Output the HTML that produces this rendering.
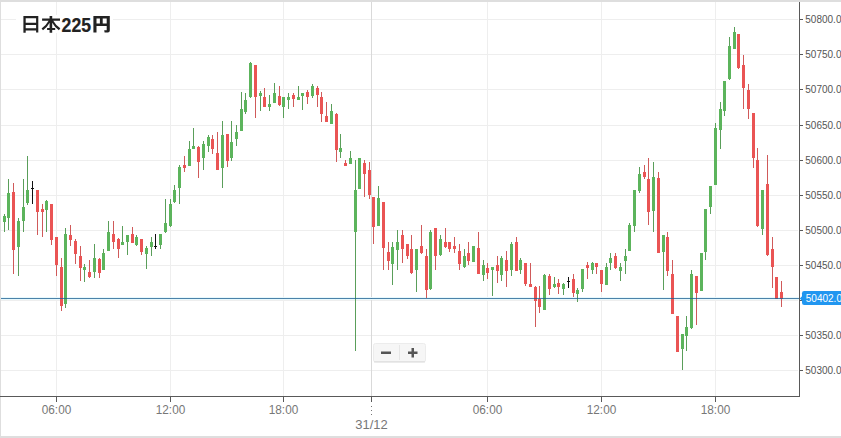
<!DOCTYPE html>
<html><head><meta charset="utf-8">
<style>
html,body{margin:0;padding:0;background:#fff;}
body{width:841px;height:438px;overflow:hidden;position:relative;}
svg{position:absolute;left:0;top:0;}
.ya{font-family:"Liberation Sans",sans-serif;font-size:10px;fill:#555;}
.xa{font-family:"Liberation Sans",sans-serif;font-size:11.8px;fill:#777;}
.pl{font-family:"Liberation Sans",sans-serif;font-size:10px;fill:#fff;}
.tt{font-family:"Liberation Sans",sans-serif;font-size:19px;font-weight:bold;fill:#222;stroke:#222;stroke-width:0.2px;}
</style></head>
<body>
<svg width="841" height="438" viewBox="0 0 841 438">
<g shape-rendering="crispEdges">
<rect x="0" y="0" width="841" height="2" fill="#dedede"/>
<rect x="0" y="0" width="1" height="438" fill="#dedede"/>
<rect x="0" y="436" width="841" height="2" fill="#dedede"/>
<rect x="1" y="19" width="797" height="1" fill="#eeeeee"/>
<rect x="1" y="54" width="797" height="1" fill="#eeeeee"/>
<rect x="1" y="89" width="797" height="1" fill="#eeeeee"/>
<rect x="1" y="125" width="797" height="1" fill="#eeeeee"/>
<rect x="1" y="160" width="797" height="1" fill="#eeeeee"/>
<rect x="1" y="195" width="797" height="1" fill="#eeeeee"/>
<rect x="1" y="230" width="797" height="1" fill="#eeeeee"/>
<rect x="1" y="265" width="797" height="1" fill="#eeeeee"/>
<rect x="1" y="300" width="797" height="1" fill="#eeeeee"/>
<rect x="1" y="335" width="797" height="1" fill="#eeeeee"/>
<rect x="1" y="370" width="797" height="1" fill="#eeeeee"/>
<rect x="56" y="2" width="1" height="394" fill="#eeeeee"/>
<rect x="170" y="2" width="1" height="394" fill="#eeeeee"/>
<rect x="283" y="2" width="1" height="394" fill="#eeeeee"/>
<rect x="371" y="2" width="1" height="394" fill="#d9d9d9"/>
<rect x="487" y="2" width="1" height="394" fill="#eeeeee"/>
<rect x="601" y="2" width="1" height="394" fill="#eeeeee"/>
<rect x="715" y="2" width="1" height="394" fill="#eeeeee"/>
<rect x="1" y="297" width="798" height="1" fill="#e8f9fd"/>
<rect x="1" y="299" width="798" height="1" fill="#e8f9fd"/>
<rect x="4" y="214.0" width="1" height="18.0" fill="#5a9e5a"/>
<rect x="3" y="216.0" width="3" height="6.0" fill="#5cb45c"/>
<rect x="8" y="179.0" width="1" height="51.0" fill="#5a9e5a"/>
<rect x="7" y="193.0" width="3" height="25.0" fill="#5cb45c"/>
<rect x="13" y="183.0" width="1" height="91.0" fill="#d05a5a"/>
<rect x="12" y="192.0" width="3" height="58.0" fill="#ea5454"/>
<rect x="18" y="218.0" width="1" height="58.0" fill="#5a9e5a"/>
<rect x="17" y="221.0" width="3" height="26.0" fill="#5cb45c"/>
<rect x="23" y="179.0" width="1" height="53.0" fill="#5a9e5a"/>
<rect x="22" y="207.0" width="3" height="14.0" fill="#5cb45c"/>
<rect x="27" y="156.0" width="1" height="49.0" fill="#5a9e5a"/>
<rect x="26" y="190.0" width="3" height="13.0" fill="#5cb45c"/>
<rect x="32" y="181.0" width="1" height="23.0" fill="#111"/>
<rect x="31" y="188.0" width="3" height="1" fill="#111"/>
<rect x="37" y="190.0" width="1" height="45.0" fill="#d05a5a"/>
<rect x="36" y="190.0" width="3" height="22.0" fill="#ea5454"/>
<rect x="42" y="204.0" width="1" height="33.0" fill="#d05a5a"/>
<rect x="41" y="209.0" width="3" height="3.0" fill="#ea5454"/>
<rect x="46" y="200.0" width="1" height="32.0" fill="#5a9e5a"/>
<rect x="45" y="201.0" width="3" height="9.0" fill="#5cb45c"/>
<rect x="51" y="204.0" width="1" height="41.0" fill="#d05a5a"/>
<rect x="50" y="204.0" width="3" height="36.0" fill="#ea5454"/>
<rect x="56" y="237.0" width="1" height="39.0" fill="#d05a5a"/>
<rect x="55" y="237.0" width="3" height="28.0" fill="#ea5454"/>
<rect x="61" y="258.0" width="1" height="53.0" fill="#d05a5a"/>
<rect x="60" y="267.0" width="3" height="39.0" fill="#ea5454"/>
<rect x="65" y="228.0" width="1" height="80.0" fill="#5a9e5a"/>
<rect x="64" y="234.0" width="3" height="70.0" fill="#5cb45c"/>
<rect x="70" y="225.0" width="1" height="21.0" fill="#d05a5a"/>
<rect x="69" y="235.0" width="3" height="5.0" fill="#ea5454"/>
<rect x="75" y="239.0" width="1" height="25.0" fill="#d05a5a"/>
<rect x="74" y="241.0" width="3" height="13.0" fill="#ea5454"/>
<rect x="80" y="246.0" width="1" height="35.0" fill="#d05a5a"/>
<rect x="79" y="256.0" width="3" height="12.0" fill="#ea5454"/>
<rect x="84" y="264.0" width="1" height="18.0" fill="#5a9e5a"/>
<rect x="83" y="267.0" width="3" height="3.0" fill="#5cb45c"/>
<rect x="89" y="260.0" width="1" height="18.0" fill="#d05a5a"/>
<rect x="88" y="272.0" width="3" height="5.0" fill="#ea5454"/>
<rect x="94" y="244.0" width="1" height="34.0" fill="#5a9e5a"/>
<rect x="93" y="258.0" width="3" height="14.0" fill="#5cb45c"/>
<rect x="99" y="258.0" width="1" height="20.0" fill="#d05a5a"/>
<rect x="98" y="259.0" width="3" height="14.0" fill="#ea5454"/>
<rect x="103" y="249.0" width="1" height="21.0" fill="#5a9e5a"/>
<rect x="102" y="253.0" width="3" height="17.0" fill="#5cb45c"/>
<rect x="108" y="221.0" width="1" height="30.0" fill="#5a9e5a"/>
<rect x="107" y="232.0" width="3" height="19.0" fill="#5cb45c"/>
<rect x="113" y="221.0" width="1" height="28.0" fill="#d05a5a"/>
<rect x="112" y="234.0" width="3" height="8.0" fill="#ea5454"/>
<rect x="118" y="238.0" width="1" height="20.0" fill="#d05a5a"/>
<rect x="117" y="239.0" width="3" height="10.0" fill="#ea5454"/>
<rect x="122" y="226.0" width="1" height="19.0" fill="#5a9e5a"/>
<rect x="121" y="242.0" width="3" height="3.0" fill="#5cb45c"/>
<rect x="127" y="235.0" width="1" height="20.0" fill="#5a9e5a"/>
<rect x="126" y="235.0" width="3" height="7.0" fill="#5cb45c"/>
<rect x="132" y="227.0" width="1" height="16.0" fill="#d05a5a"/>
<rect x="131" y="234.0" width="3" height="9.0" fill="#ea5454"/>
<rect x="136" y="235.0" width="1" height="11.0" fill="#5a9e5a"/>
<rect x="135" y="237.0" width="3" height="8.0" fill="#5cb45c"/>
<rect x="141" y="239.0" width="1" height="16.0" fill="#d05a5a"/>
<rect x="140" y="239.0" width="3" height="13.0" fill="#ea5454"/>
<rect x="146" y="246.0" width="1" height="23.0" fill="#5a9e5a"/>
<rect x="145" y="248.0" width="3" height="6.0" fill="#5cb45c"/>
<rect x="151" y="237.0" width="1" height="19.0" fill="#5a9e5a"/>
<rect x="150" y="242.0" width="3" height="5.0" fill="#5cb45c"/>
<rect x="155" y="234.0" width="1" height="15.0" fill="#111"/>
<rect x="154" y="246.0" width="3" height="1" fill="#111"/>
<rect x="160" y="234.0" width="1" height="15.0" fill="#5a9e5a"/>
<rect x="159" y="234.0" width="3" height="11.0" fill="#5cb45c"/>
<rect x="165" y="199.0" width="1" height="34.0" fill="#5a9e5a"/>
<rect x="164" y="223.0" width="3" height="9.0" fill="#5cb45c"/>
<rect x="170" y="199.0" width="1" height="28.0" fill="#5a9e5a"/>
<rect x="169" y="204.0" width="3" height="22.0" fill="#5cb45c"/>
<rect x="174" y="185.0" width="1" height="18.0" fill="#5a9e5a"/>
<rect x="173" y="190.0" width="3" height="12.0" fill="#5cb45c"/>
<rect x="179" y="165.0" width="1" height="39.0" fill="#5a9e5a"/>
<rect x="178" y="167.0" width="3" height="21.0" fill="#5cb45c"/>
<rect x="184" y="156.0" width="1" height="16.0" fill="#d05a5a"/>
<rect x="183" y="165.0" width="3" height="3.0" fill="#ea5454"/>
<rect x="189" y="141.0" width="1" height="25.0" fill="#5a9e5a"/>
<rect x="188" y="149.0" width="3" height="17.0" fill="#5cb45c"/>
<rect x="193" y="128.0" width="1" height="21.0" fill="#5a9e5a"/>
<rect x="192" y="146.0" width="3" height="3.0" fill="#5cb45c"/>
<rect x="198" y="146.0" width="1" height="32.0" fill="#d05a5a"/>
<rect x="197" y="147.0" width="3" height="15.0" fill="#ea5454"/>
<rect x="203" y="141.0" width="1" height="29.0" fill="#5a9e5a"/>
<rect x="202" y="144.0" width="3" height="14.0" fill="#5cb45c"/>
<rect x="208" y="135.0" width="1" height="17.0" fill="#5a9e5a"/>
<rect x="207" y="137.0" width="3" height="9.0" fill="#5cb45c"/>
<rect x="212" y="135.0" width="1" height="19.0" fill="#d05a5a"/>
<rect x="211" y="139.0" width="3" height="10.0" fill="#ea5454"/>
<rect x="217" y="132.0" width="1" height="38.0" fill="#d05a5a"/>
<rect x="216" y="153.0" width="3" height="17.0" fill="#ea5454"/>
<rect x="222" y="121.0" width="1" height="67.0" fill="#5a9e5a"/>
<rect x="221" y="135.0" width="3" height="33.0" fill="#5cb45c"/>
<rect x="227" y="134.0" width="1" height="33.0" fill="#d05a5a"/>
<rect x="226" y="134.0" width="3" height="27.0" fill="#ea5454"/>
<rect x="231" y="121.0" width="1" height="40.0" fill="#5a9e5a"/>
<rect x="230" y="142.0" width="3" height="16.0" fill="#5cb45c"/>
<rect x="236" y="125.0" width="1" height="21.0" fill="#5a9e5a"/>
<rect x="235" y="132.0" width="3" height="7.0" fill="#5cb45c"/>
<rect x="241" y="92.0" width="1" height="39.0" fill="#5a9e5a"/>
<rect x="240" y="109.0" width="3" height="22.0" fill="#5cb45c"/>
<rect x="245" y="93.0" width="1" height="21.0" fill="#5a9e5a"/>
<rect x="244" y="100.0" width="3" height="12.0" fill="#5cb45c"/>
<rect x="250" y="62.0" width="1" height="36.0" fill="#5a9e5a"/>
<rect x="249" y="63.0" width="3" height="34.0" fill="#5cb45c"/>
<rect x="255" y="65.0" width="1" height="53.0" fill="#d05a5a"/>
<rect x="254" y="65.0" width="3" height="32.0" fill="#ea5454"/>
<rect x="260" y="91.0" width="1" height="20.0" fill="#5a9e5a"/>
<rect x="259" y="93.0" width="3" height="3.0" fill="#5cb45c"/>
<rect x="264" y="88.0" width="1" height="19.0" fill="#d05a5a"/>
<rect x="263" y="97.0" width="3" height="10.0" fill="#ea5454"/>
<rect x="269" y="95.0" width="1" height="16.0" fill="#5a9e5a"/>
<rect x="268" y="104.0" width="3" height="3.0" fill="#5cb45c"/>
<rect x="274" y="83.0" width="1" height="20.0" fill="#5a9e5a"/>
<rect x="273" y="93.0" width="3" height="10.0" fill="#5cb45c"/>
<rect x="279" y="86.0" width="1" height="20.0" fill="#d05a5a"/>
<rect x="278" y="96.0" width="3" height="9.0" fill="#ea5454"/>
<rect x="283" y="97.0" width="1" height="21.0" fill="#5a9e5a"/>
<rect x="282" y="97.0" width="3" height="10.0" fill="#5cb45c"/>
<rect x="288" y="93.0" width="1" height="16.0" fill="#5a9e5a"/>
<rect x="287" y="97.0" width="3" height="3.0" fill="#5cb45c"/>
<rect x="293" y="93.0" width="1" height="14.0" fill="#d05a5a"/>
<rect x="292" y="95.0" width="3" height="4.0" fill="#ea5454"/>
<rect x="298" y="86.0" width="1" height="14.0" fill="#5a9e5a"/>
<rect x="297" y="97.0" width="3" height="3.0" fill="#5cb45c"/>
<rect x="302" y="93.0" width="1" height="17.0" fill="#5a9e5a"/>
<rect x="301" y="93.0" width="3" height="3.0" fill="#5cb45c"/>
<rect x="307" y="90.0" width="1" height="14.0" fill="#d05a5a"/>
<rect x="306" y="92.0" width="3" height="5.0" fill="#ea5454"/>
<rect x="312" y="84.0" width="1" height="14.0" fill="#5a9e5a"/>
<rect x="311" y="86.0" width="3" height="10.0" fill="#5cb45c"/>
<rect x="317" y="86.0" width="1" height="21.0" fill="#d05a5a"/>
<rect x="316" y="88.0" width="3" height="7.0" fill="#ea5454"/>
<rect x="321" y="92.0" width="1" height="30.0" fill="#d05a5a"/>
<rect x="320" y="97.0" width="3" height="17.0" fill="#ea5454"/>
<rect x="326" y="102.0" width="1" height="20.0" fill="#d05a5a"/>
<rect x="325" y="116.0" width="3" height="6.0" fill="#ea5454"/>
<rect x="331" y="104.0" width="1" height="20.0" fill="#5a9e5a"/>
<rect x="330" y="111.0" width="3" height="13.0" fill="#5cb45c"/>
<rect x="336" y="113.0" width="1" height="49.0" fill="#d05a5a"/>
<rect x="335" y="114.0" width="3" height="36.0" fill="#ea5454"/>
<rect x="340" y="134.0" width="1" height="24.0" fill="#5a9e5a"/>
<rect x="339" y="148.0" width="3" height="4.0" fill="#5cb45c"/>
<rect x="345" y="160.0" width="1" height="6.0" fill="#d05a5a"/>
<rect x="344" y="163.0" width="3" height="3.0" fill="#ea5454"/>
<rect x="350" y="151.0" width="1" height="13.0" fill="#5a9e5a"/>
<rect x="349" y="158.0" width="3" height="6.0" fill="#5cb45c"/>
<rect x="355" y="160.0" width="1" height="191.0" fill="#5a9e5a"/>
<rect x="354" y="190.0" width="3" height="42.0" fill="#5cb45c"/>
<rect x="359" y="158.0" width="1" height="31.0" fill="#5a9e5a"/>
<rect x="358" y="158.0" width="3" height="31.0" fill="#5cb45c"/>
<rect x="364" y="160.0" width="1" height="37.0" fill="#d05a5a"/>
<rect x="363" y="163.0" width="3" height="11.0" fill="#ea5454"/>
<rect x="369" y="162.0" width="1" height="37.0" fill="#d05a5a"/>
<rect x="368" y="170.0" width="3" height="25.0" fill="#ea5454"/>
<rect x="373" y="197.0" width="1" height="47.0" fill="#d05a5a"/>
<rect x="372" y="197.0" width="3" height="30.0" fill="#ea5454"/>
<rect x="378" y="186.0" width="1" height="40.0" fill="#5a9e5a"/>
<rect x="377" y="198.0" width="3" height="28.0" fill="#5cb45c"/>
<rect x="383" y="202.0" width="1" height="68.0" fill="#d05a5a"/>
<rect x="382" y="202.0" width="3" height="46.0" fill="#ea5454"/>
<rect x="388" y="242.0" width="1" height="28.0" fill="#d05a5a"/>
<rect x="387" y="252.0" width="3" height="9.0" fill="#ea5454"/>
<rect x="392" y="242.0" width="1" height="43.0" fill="#5a9e5a"/>
<rect x="391" y="247.0" width="3" height="17.0" fill="#5cb45c"/>
<rect x="397" y="230.0" width="1" height="40.0" fill="#5a9e5a"/>
<rect x="396" y="242.0" width="3" height="8.0" fill="#5cb45c"/>
<rect x="402" y="230.0" width="1" height="33.0" fill="#d05a5a"/>
<rect x="401" y="235.0" width="3" height="14.0" fill="#ea5454"/>
<rect x="407" y="244.0" width="1" height="15.0" fill="#d05a5a"/>
<rect x="406" y="244.0" width="3" height="12.0" fill="#ea5454"/>
<rect x="411" y="235.0" width="1" height="39.0" fill="#d05a5a"/>
<rect x="410" y="249.0" width="3" height="24.0" fill="#ea5454"/>
<rect x="416" y="249.0" width="1" height="43.0" fill="#5a9e5a"/>
<rect x="415" y="249.0" width="3" height="21.0" fill="#5cb45c"/>
<rect x="421" y="225.0" width="1" height="29.0" fill="#d05a5a"/>
<rect x="420" y="246.0" width="3" height="7.0" fill="#ea5454"/>
<rect x="426" y="249.0" width="1" height="49.0" fill="#d05a5a"/>
<rect x="425" y="256.0" width="3" height="34.0" fill="#ea5454"/>
<rect x="430" y="230.0" width="1" height="60.0" fill="#5a9e5a"/>
<rect x="429" y="232.0" width="3" height="57.0" fill="#5cb45c"/>
<rect x="435" y="228.0" width="1" height="42.0" fill="#d05a5a"/>
<rect x="434" y="228.0" width="3" height="28.0" fill="#ea5454"/>
<rect x="440" y="235.0" width="1" height="21.0" fill="#5a9e5a"/>
<rect x="439" y="239.0" width="3" height="16.0" fill="#5cb45c"/>
<rect x="445" y="228.0" width="1" height="20.0" fill="#d05a5a"/>
<rect x="444" y="242.0" width="3" height="5.0" fill="#ea5454"/>
<rect x="449" y="242.0" width="1" height="10.0" fill="#d05a5a"/>
<rect x="448" y="242.0" width="3" height="7.0" fill="#ea5454"/>
<rect x="454" y="237.0" width="1" height="16.0" fill="#d05a5a"/>
<rect x="453" y="246.0" width="3" height="3.0" fill="#ea5454"/>
<rect x="459" y="244.0" width="1" height="26.0" fill="#d05a5a"/>
<rect x="458" y="251.0" width="3" height="13.0" fill="#ea5454"/>
<rect x="464" y="249.0" width="1" height="19.0" fill="#5a9e5a"/>
<rect x="463" y="256.0" width="3" height="11.0" fill="#5cb45c"/>
<rect x="468" y="242.0" width="1" height="23.0" fill="#d05a5a"/>
<rect x="467" y="253.0" width="3" height="8.0" fill="#ea5454"/>
<rect x="473" y="246.0" width="1" height="16.0" fill="#5a9e5a"/>
<rect x="472" y="246.0" width="3" height="16.0" fill="#5cb45c"/>
<rect x="478" y="232.0" width="1" height="42.0" fill="#d05a5a"/>
<rect x="477" y="248.0" width="3" height="26.0" fill="#ea5454"/>
<rect x="483" y="260.0" width="1" height="21.0" fill="#5a9e5a"/>
<rect x="482" y="265.0" width="3" height="10.0" fill="#5cb45c"/>
<rect x="487" y="263.0" width="1" height="16.0" fill="#d05a5a"/>
<rect x="486" y="268.0" width="3" height="5.0" fill="#ea5454"/>
<rect x="492" y="267.0" width="1" height="29.0" fill="#5a9e5a"/>
<rect x="491" y="267.0" width="3" height="3.0" fill="#5cb45c"/>
<rect x="497" y="256.0" width="1" height="27.0" fill="#d05a5a"/>
<rect x="496" y="265.0" width="3" height="6.0" fill="#ea5454"/>
<rect x="501" y="256.0" width="1" height="25.0" fill="#5a9e5a"/>
<rect x="500" y="258.0" width="3" height="17.0" fill="#5cb45c"/>
<rect x="506" y="251.0" width="1" height="36.0" fill="#d05a5a"/>
<rect x="505" y="260.0" width="3" height="11.0" fill="#ea5454"/>
<rect x="511" y="242.0" width="1" height="34.0" fill="#5a9e5a"/>
<rect x="510" y="244.0" width="3" height="26.0" fill="#5cb45c"/>
<rect x="516" y="237.0" width="1" height="34.0" fill="#d05a5a"/>
<rect x="515" y="242.0" width="3" height="29.0" fill="#ea5454"/>
<rect x="520" y="258.0" width="1" height="16.0" fill="#5a9e5a"/>
<rect x="519" y="260.0" width="3" height="10.0" fill="#5cb45c"/>
<rect x="525" y="263.0" width="1" height="23.0" fill="#d05a5a"/>
<rect x="524" y="263.0" width="3" height="21.0" fill="#ea5454"/>
<rect x="530" y="263.0" width="1" height="24.0" fill="#d05a5a"/>
<rect x="529" y="284.0" width="3" height="3.0" fill="#ea5454"/>
<rect x="535" y="286.0" width="1" height="41.0" fill="#d05a5a"/>
<rect x="534" y="287.0" width="3" height="14.0" fill="#ea5454"/>
<rect x="539" y="286.0" width="1" height="27.0" fill="#d05a5a"/>
<rect x="538" y="299.0" width="3" height="8.0" fill="#ea5454"/>
<rect x="544" y="274.0" width="1" height="36.0" fill="#5a9e5a"/>
<rect x="543" y="275.0" width="3" height="35.0" fill="#5cb45c"/>
<rect x="549" y="274.0" width="1" height="21.0" fill="#d05a5a"/>
<rect x="548" y="276.0" width="3" height="13.0" fill="#ea5454"/>
<rect x="554" y="277.0" width="1" height="11.0" fill="#5a9e5a"/>
<rect x="553" y="284.0" width="3" height="3.0" fill="#5cb45c"/>
<rect x="558" y="279.0" width="1" height="15.0" fill="#d05a5a"/>
<rect x="557" y="283.0" width="3" height="4.0" fill="#ea5454"/>
<rect x="563" y="283.0" width="1" height="12.0" fill="#5a9e5a"/>
<rect x="562" y="284.0" width="3" height="5.0" fill="#5cb45c"/>
<rect x="568" y="277.0" width="1" height="11.0" fill="#111"/>
<rect x="567" y="281.0" width="3" height="1" fill="#111"/>
<rect x="573" y="274.0" width="1" height="23.0" fill="#d05a5a"/>
<rect x="572" y="279.0" width="3" height="14.0" fill="#ea5454"/>
<rect x="577" y="288.0" width="1" height="14.0" fill="#5a9e5a"/>
<rect x="576" y="290.0" width="3" height="4.0" fill="#5cb45c"/>
<rect x="582" y="269.0" width="1" height="23.0" fill="#5a9e5a"/>
<rect x="581" y="269.0" width="3" height="20.0" fill="#5cb45c"/>
<rect x="587" y="262.0" width="1" height="17.0" fill="#d05a5a"/>
<rect x="586" y="265.0" width="3" height="3.0" fill="#ea5454"/>
<rect x="592" y="262.0" width="1" height="12.0" fill="#5a9e5a"/>
<rect x="591" y="263.0" width="3" height="7.0" fill="#5cb45c"/>
<rect x="596" y="263.0" width="1" height="11.0" fill="#d05a5a"/>
<rect x="595" y="263.0" width="3" height="4.0" fill="#ea5454"/>
<rect x="601" y="270.0" width="1" height="22.0" fill="#d05a5a"/>
<rect x="600" y="270.0" width="3" height="14.0" fill="#ea5454"/>
<rect x="606" y="263.0" width="1" height="22.0" fill="#5a9e5a"/>
<rect x="605" y="267.0" width="3" height="18.0" fill="#5cb45c"/>
<rect x="610" y="253.0" width="1" height="17.0" fill="#5a9e5a"/>
<rect x="609" y="258.0" width="3" height="5.0" fill="#5cb45c"/>
<rect x="615" y="253.0" width="1" height="16.0" fill="#d05a5a"/>
<rect x="614" y="256.0" width="3" height="12.0" fill="#ea5454"/>
<rect x="620" y="263.0" width="1" height="18.0" fill="#5a9e5a"/>
<rect x="619" y="267.0" width="3" height="4.0" fill="#5cb45c"/>
<rect x="625" y="249.0" width="1" height="25.0" fill="#5a9e5a"/>
<rect x="624" y="256.0" width="3" height="5.0" fill="#5cb45c"/>
<rect x="629" y="223.0" width="1" height="28.0" fill="#5a9e5a"/>
<rect x="628" y="225.0" width="3" height="26.0" fill="#5cb45c"/>
<rect x="634" y="190.0" width="1" height="42.0" fill="#5a9e5a"/>
<rect x="633" y="190.0" width="3" height="36.0" fill="#5cb45c"/>
<rect x="639" y="167.0" width="1" height="26.0" fill="#5a9e5a"/>
<rect x="638" y="174.0" width="3" height="17.0" fill="#5cb45c"/>
<rect x="644" y="165.0" width="1" height="14.0" fill="#d05a5a"/>
<rect x="643" y="172.0" width="3" height="5.0" fill="#ea5454"/>
<rect x="648" y="158.0" width="1" height="67.0" fill="#d05a5a"/>
<rect x="647" y="179.0" width="3" height="33.0" fill="#ea5454"/>
<rect x="653" y="162.0" width="1" height="70.0" fill="#5a9e5a"/>
<rect x="652" y="177.0" width="3" height="34.0" fill="#5cb45c"/>
<rect x="658" y="172.0" width="1" height="81.0" fill="#d05a5a"/>
<rect x="657" y="178.0" width="3" height="75.0" fill="#ea5454"/>
<rect x="663" y="235.0" width="1" height="55.0" fill="#5a9e5a"/>
<rect x="662" y="235.0" width="3" height="17.0" fill="#5cb45c"/>
<rect x="667" y="232.0" width="1" height="44.0" fill="#d05a5a"/>
<rect x="666" y="237.0" width="3" height="34.0" fill="#ea5454"/>
<rect x="672" y="260.0" width="1" height="54.0" fill="#d05a5a"/>
<rect x="671" y="274.0" width="3" height="40.0" fill="#ea5454"/>
<rect x="677" y="316.0" width="1" height="36.0" fill="#d05a5a"/>
<rect x="676" y="316.0" width="3" height="36.0" fill="#ea5454"/>
<rect x="682" y="334.0" width="1" height="36.0" fill="#5a9e5a"/>
<rect x="681" y="334.0" width="3" height="15.0" fill="#5cb45c"/>
<rect x="686" y="316.0" width="1" height="35.0" fill="#5a9e5a"/>
<rect x="685" y="327.0" width="3" height="9.0" fill="#5cb45c"/>
<rect x="691" y="270.0" width="1" height="59.0" fill="#5a9e5a"/>
<rect x="690" y="274.0" width="3" height="54.0" fill="#5cb45c"/>
<rect x="696" y="276.0" width="1" height="49.0" fill="#d05a5a"/>
<rect x="695" y="276.0" width="3" height="17.0" fill="#ea5454"/>
<rect x="701" y="253.0" width="1" height="38.0" fill="#5a9e5a"/>
<rect x="700" y="253.0" width="3" height="38.0" fill="#5cb45c"/>
<rect x="705" y="209.0" width="1" height="51.0" fill="#5a9e5a"/>
<rect x="704" y="209.0" width="3" height="43.0" fill="#5cb45c"/>
<rect x="710" y="186.0" width="1" height="28.0" fill="#5a9e5a"/>
<rect x="709" y="186.0" width="3" height="21.0" fill="#5cb45c"/>
<rect x="715" y="123.0" width="1" height="62.0" fill="#5a9e5a"/>
<rect x="714" y="128.0" width="3" height="57.0" fill="#5cb45c"/>
<rect x="720" y="102.0" width="1" height="47.0" fill="#5a9e5a"/>
<rect x="719" y="109.0" width="3" height="21.0" fill="#5cb45c"/>
<rect x="724" y="81.0" width="1" height="35.0" fill="#5a9e5a"/>
<rect x="723" y="81.0" width="3" height="30.0" fill="#5cb45c"/>
<rect x="729" y="37.0" width="1" height="43.0" fill="#5a9e5a"/>
<rect x="728" y="46.0" width="3" height="33.0" fill="#5cb45c"/>
<rect x="734" y="27.0" width="1" height="22.0" fill="#5a9e5a"/>
<rect x="733" y="32.0" width="3" height="17.0" fill="#5cb45c"/>
<rect x="738" y="34.0" width="1" height="35.0" fill="#d05a5a"/>
<rect x="737" y="34.0" width="3" height="34.0" fill="#ea5454"/>
<rect x="743" y="55.0" width="1" height="54.0" fill="#d05a5a"/>
<rect x="742" y="65.0" width="3" height="23.0" fill="#ea5454"/>
<rect x="748" y="84.0" width="1" height="35.0" fill="#d05a5a"/>
<rect x="747" y="90.0" width="3" height="19.0" fill="#ea5454"/>
<rect x="753" y="113.0" width="1" height="55.0" fill="#d05a5a"/>
<rect x="752" y="113.0" width="3" height="45.0" fill="#ea5454"/>
<rect x="757" y="148.0" width="1" height="79.0" fill="#d05a5a"/>
<rect x="756" y="160.0" width="3" height="66.0" fill="#ea5454"/>
<rect x="762" y="190.0" width="1" height="45.0" fill="#5a9e5a"/>
<rect x="761" y="190.0" width="3" height="39.0" fill="#5cb45c"/>
<rect x="767" y="155.0" width="1" height="101.0" fill="#d05a5a"/>
<rect x="766" y="184.0" width="3" height="71.0" fill="#ea5454"/>
<rect x="772" y="237.0" width="1" height="51.0" fill="#d05a5a"/>
<rect x="771" y="249.0" width="3" height="18.0" fill="#ea5454"/>
<rect x="776" y="277.0" width="1" height="22.0" fill="#d05a5a"/>
<rect x="775" y="277.0" width="3" height="22.0" fill="#ea5454"/>
<rect x="781" y="281.0" width="1" height="26.0" fill="#d05a5a"/>
<rect x="780" y="292.0" width="3" height="7.0" fill="#ea5454"/>
<rect x="1" y="298" width="798" height="1" fill="rgba(25,95,145,0.78)"/>
<rect x="799" y="2" width="1" height="395" fill="#595959"/>
<rect x="0" y="396" width="800" height="1" fill="#595959"/>
<rect x="800" y="19" width="3" height="1" fill="#595959"/>
<rect x="800" y="54" width="3" height="1" fill="#595959"/>
<rect x="800" y="89" width="3" height="1" fill="#595959"/>
<rect x="800" y="125" width="3" height="1" fill="#595959"/>
<rect x="800" y="160" width="3" height="1" fill="#595959"/>
<rect x="800" y="195" width="3" height="1" fill="#595959"/>
<rect x="800" y="230" width="3" height="1" fill="#595959"/>
<rect x="800" y="265" width="3" height="1" fill="#595959"/>
<rect x="800" y="300" width="3" height="1" fill="#595959"/>
<rect x="800" y="335" width="3" height="1" fill="#595959"/>
<rect x="800" y="370" width="3" height="1" fill="#595959"/>
<rect x="56" y="397" width="1" height="5" fill="#595959"/>
<rect x="170" y="397" width="1" height="5" fill="#595959"/>
<rect x="283" y="397" width="1" height="5" fill="#595959"/>
<rect x="371" y="397" width="1" height="5" fill="#595959"/>
<rect x="487" y="397" width="1" height="5" fill="#595959"/>
<rect x="601" y="397" width="1" height="5" fill="#595959"/>
<rect x="715" y="397" width="1" height="5" fill="#595959"/>
<rect x="371" y="406" width="1" height="1" fill="#777"/>
<rect x="371" y="410" width="1" height="1" fill="#777"/>
<rect x="371" y="414" width="1" height="1" fill="#777"/>
</g>
<text transform="translate(805.3,22.5)" class="ya">50800.0</text><text transform="translate(805.3,57.5)" class="ya">50750.0</text><text transform="translate(805.3,92.5)" class="ya">50700.0</text><text transform="translate(805.3,128.5)" class="ya">50650.0</text><text transform="translate(805.3,163.5)" class="ya">50600.0</text><text transform="translate(805.3,198.5)" class="ya">50550.0</text><text transform="translate(805.3,233.5)" class="ya">50500.0</text><text transform="translate(805.3,268.5)" class="ya">50450.0</text><text transform="translate(805.3,338.5)" class="ya">50350.0</text><text transform="translate(805.3,373.5)" class="ya">50300.0</text><text transform="translate(56.5,414) scale(1.0,1.1)" class="xa" text-anchor="middle">06:00</text><text transform="translate(170.5,414) scale(1.0,1.1)" class="xa" text-anchor="middle">12:00</text><text transform="translate(283.5,414) scale(1.0,1.1)" class="xa" text-anchor="middle">18:00</text><text transform="translate(487.5,414) scale(1.0,1.1)" class="xa" text-anchor="middle">06:00</text><text transform="translate(601.5,414) scale(1.0,1.1)" class="xa" text-anchor="middle">12:00</text><text transform="translate(715.5,414) scale(1.0,1.1)" class="xa" text-anchor="middle">18:00</text><text transform="translate(371.5,429) scale(1.1,1.05)" class="xa" text-anchor="middle">31/12</text>
<!-- price label -->
<rect x="802" y="291" width="45" height="14" rx="2.2" fill="#2196f0"/>
<path d="M799.8 298.5 L802.5 295.8 L802.5 301.2 Z" fill="#2196f0"/>
<text transform="translate(805.8,301.5)" class="pl">50402.0</text>
<!-- zoom control -->
<rect x="373.5" y="343.5" width="52" height="18.5" rx="2" fill="#f6f6f6" stroke="#ececec" stroke-width="1"/>
<rect x="374" y="361" width="51" height="1.5" fill="#e2e2e2"/>
<rect x="399" y="345" width="1" height="15" fill="#e6e6e6" shape-rendering="crispEdges"/>
<rect x="381" y="351.5" width="10" height="2.5" fill="#555"/>
<rect x="408" y="351.5" width="9.5" height="2.5" fill="#555"/>
<rect x="411.5" y="348" width="2.5" height="9.5" fill="#555"/>
<!-- title -->
<rect x="16" y="15" width="97" height="18" fill="#fff"/>
<g fill="#222">
  <!-- 日 -->
  <path d="M23.4 16 H38.3 V32.6 H36.1 V30.5 H25.7 V32.8 H23.4 Z M25.7 18.2 V22.8 H36.1 V18.2 Z M25.7 25 V28.3 H36.1 V25 Z" fill-rule="evenodd"/>
  <!-- 本 -->
  <path d="M42.1 18.5 H60 V20.8 H53.3 Q55.8 25.5 60.3 28.3 L58.9 30.2 Q54.6 27.2 52.2 22.8 V28.1 H55.2 V30.1 H52.2 V32.8 H49.6 V30.1 H47.1 V28.1 H49.6 V22.8 Q47.2 27.3 43 30.3 L41.6 28.4 Q46.1 25.5 48.6 20.8 H42.1 Z M49.6 16 H52.2 V18.5 H49.6 Z"/>
  <!-- 円 -->
  <path d="M93.4 16 H109.8 V30.4 Q109.8 32.4 107.8 32.4 H104.6 L104.2 30.2 H106.7 V25.9 H96.5 V32.6 H93.4 Z M96.5 18.5 V23.4 H99.9 V18.5 Z M102.7 18.5 V23.4 H106.7 V18.5 Z" fill-rule="evenodd"/>
</g>
<text transform="translate(61.6,31.9) scale(0.93,1.04)" class="tt">225</text>
</svg>
</body></html>
